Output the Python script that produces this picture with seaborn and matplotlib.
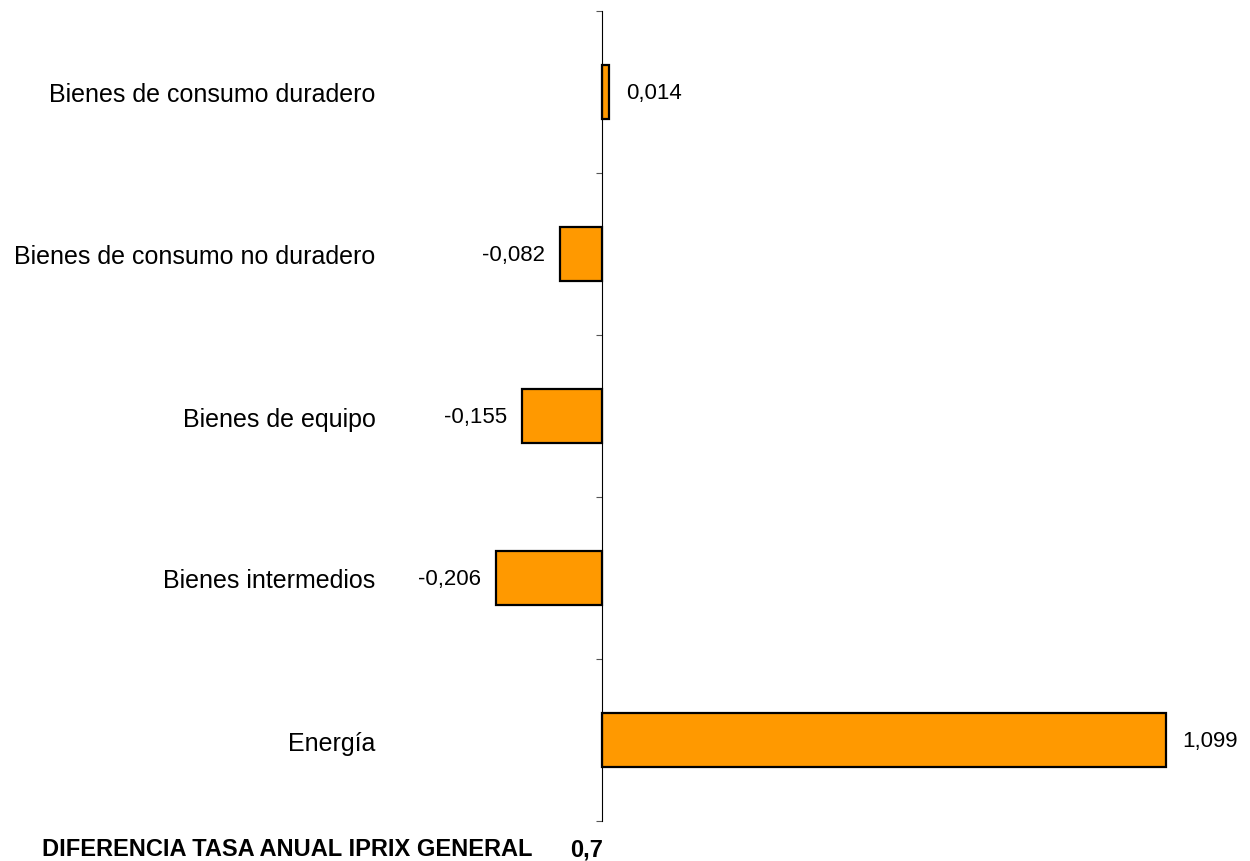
import numpy as np
import pandas as pd
import seaborn as sns
import matplotlib.pyplot as plt
from matplotlib.ticker import FixedLocator

# Chart data
categorias = ["Bienes de consumo duradero", "Bienes de consumo no duradero",
              "Bienes de equipo", "Bienes intermedios", "Energía"]
valores = [0.014, -0.082, -0.155, -0.206, 1.099]
etiquetas = ["0,014", "-0,082", "-0,155", "-0,206", "1,099"]
nota_texto = "DIFERENCIA TASA ANUAL IPRIX GENERAL"
nota_valor = "0,7"

df = pd.DataFrame({"categoria": categorias, "valor": valores})

sns.set_style("white")
plt.rcParams['font.family'] = ['Liberation Sans', 'DejaVu Sans']
plt.rcParams['text.color'] = 'black'
plt.rcParams['ytick.color'] = 'black'
plt.rcParams['ytick.labelcolor'] = 'black'

fig = plt.figure(figsize=(12.5, 8.62), dpi=100)
W, H = 1250, 862
# axes in pixels: x 440..1180, y 12..822 (from top)
ax = fig.add_axes([440 / W, 1 - 822 / H, 740 / W, 810 / H])

sns.barplot(data=df, x="valor", y="categoria", orient="h", color="#FF9900",
            saturation=1, edgecolor="black", linewidth=1.6, width=0.333, ax=ax)

px_per_unit = 513.0
ax.set_xlim((440 - 602) / px_per_unit, (1180 - 602) / px_per_unit)
ax.set_ylim(4.5, -0.5)

# axis line at zero
for s in ["top", "right", "bottom"]:
    ax.spines[s].set_visible(False)
ax.spines["left"].set_position(("data", 0))
ax.spines["left"].set_color("black")
ax.spines["left"].set_linewidth(0.8)
ax.set_zorder(1)

ax.set_xticks([])
ax.set_xlabel("")
ax.set_ylabel("")
ax.yaxis.set_minor_locator(FixedLocator(np.arange(-0.5, 5.0, 1.0)))
ax.tick_params(axis="y", which="major", left=False, length=0, pad=163,
               labelsize=18, labelcolor="black")
ax.tick_params(axis="y", which="minor", left=True, length=4.5, width=0.8,
               color="#555555", direction="out")

# value labels
for i, (v, t) in enumerate(zip(valores, etiquetas)):
    if v >= 0:
        ax.annotate(t, (v, i), xytext=(12, 0), textcoords="offset points",
                    ha="left", va="center", fontsize=16, color="black")
    else:
        ax.annotate(t, (v, i), xytext=(-11, 0), textcoords="offset points",
                    ha="right", va="center", fontsize=16, color="black")

fig.text(42 / W, 1 - 850 / H, nota_texto, fontsize=17, fontweight="bold",
         ha="left", va="center", color="black")
fig.text(570 / W, 1 - 850 / H, nota_valor, fontsize=17, fontweight="bold",
         ha="left", va="center", color="black")

fig.savefig("out.png", dpi=100)
